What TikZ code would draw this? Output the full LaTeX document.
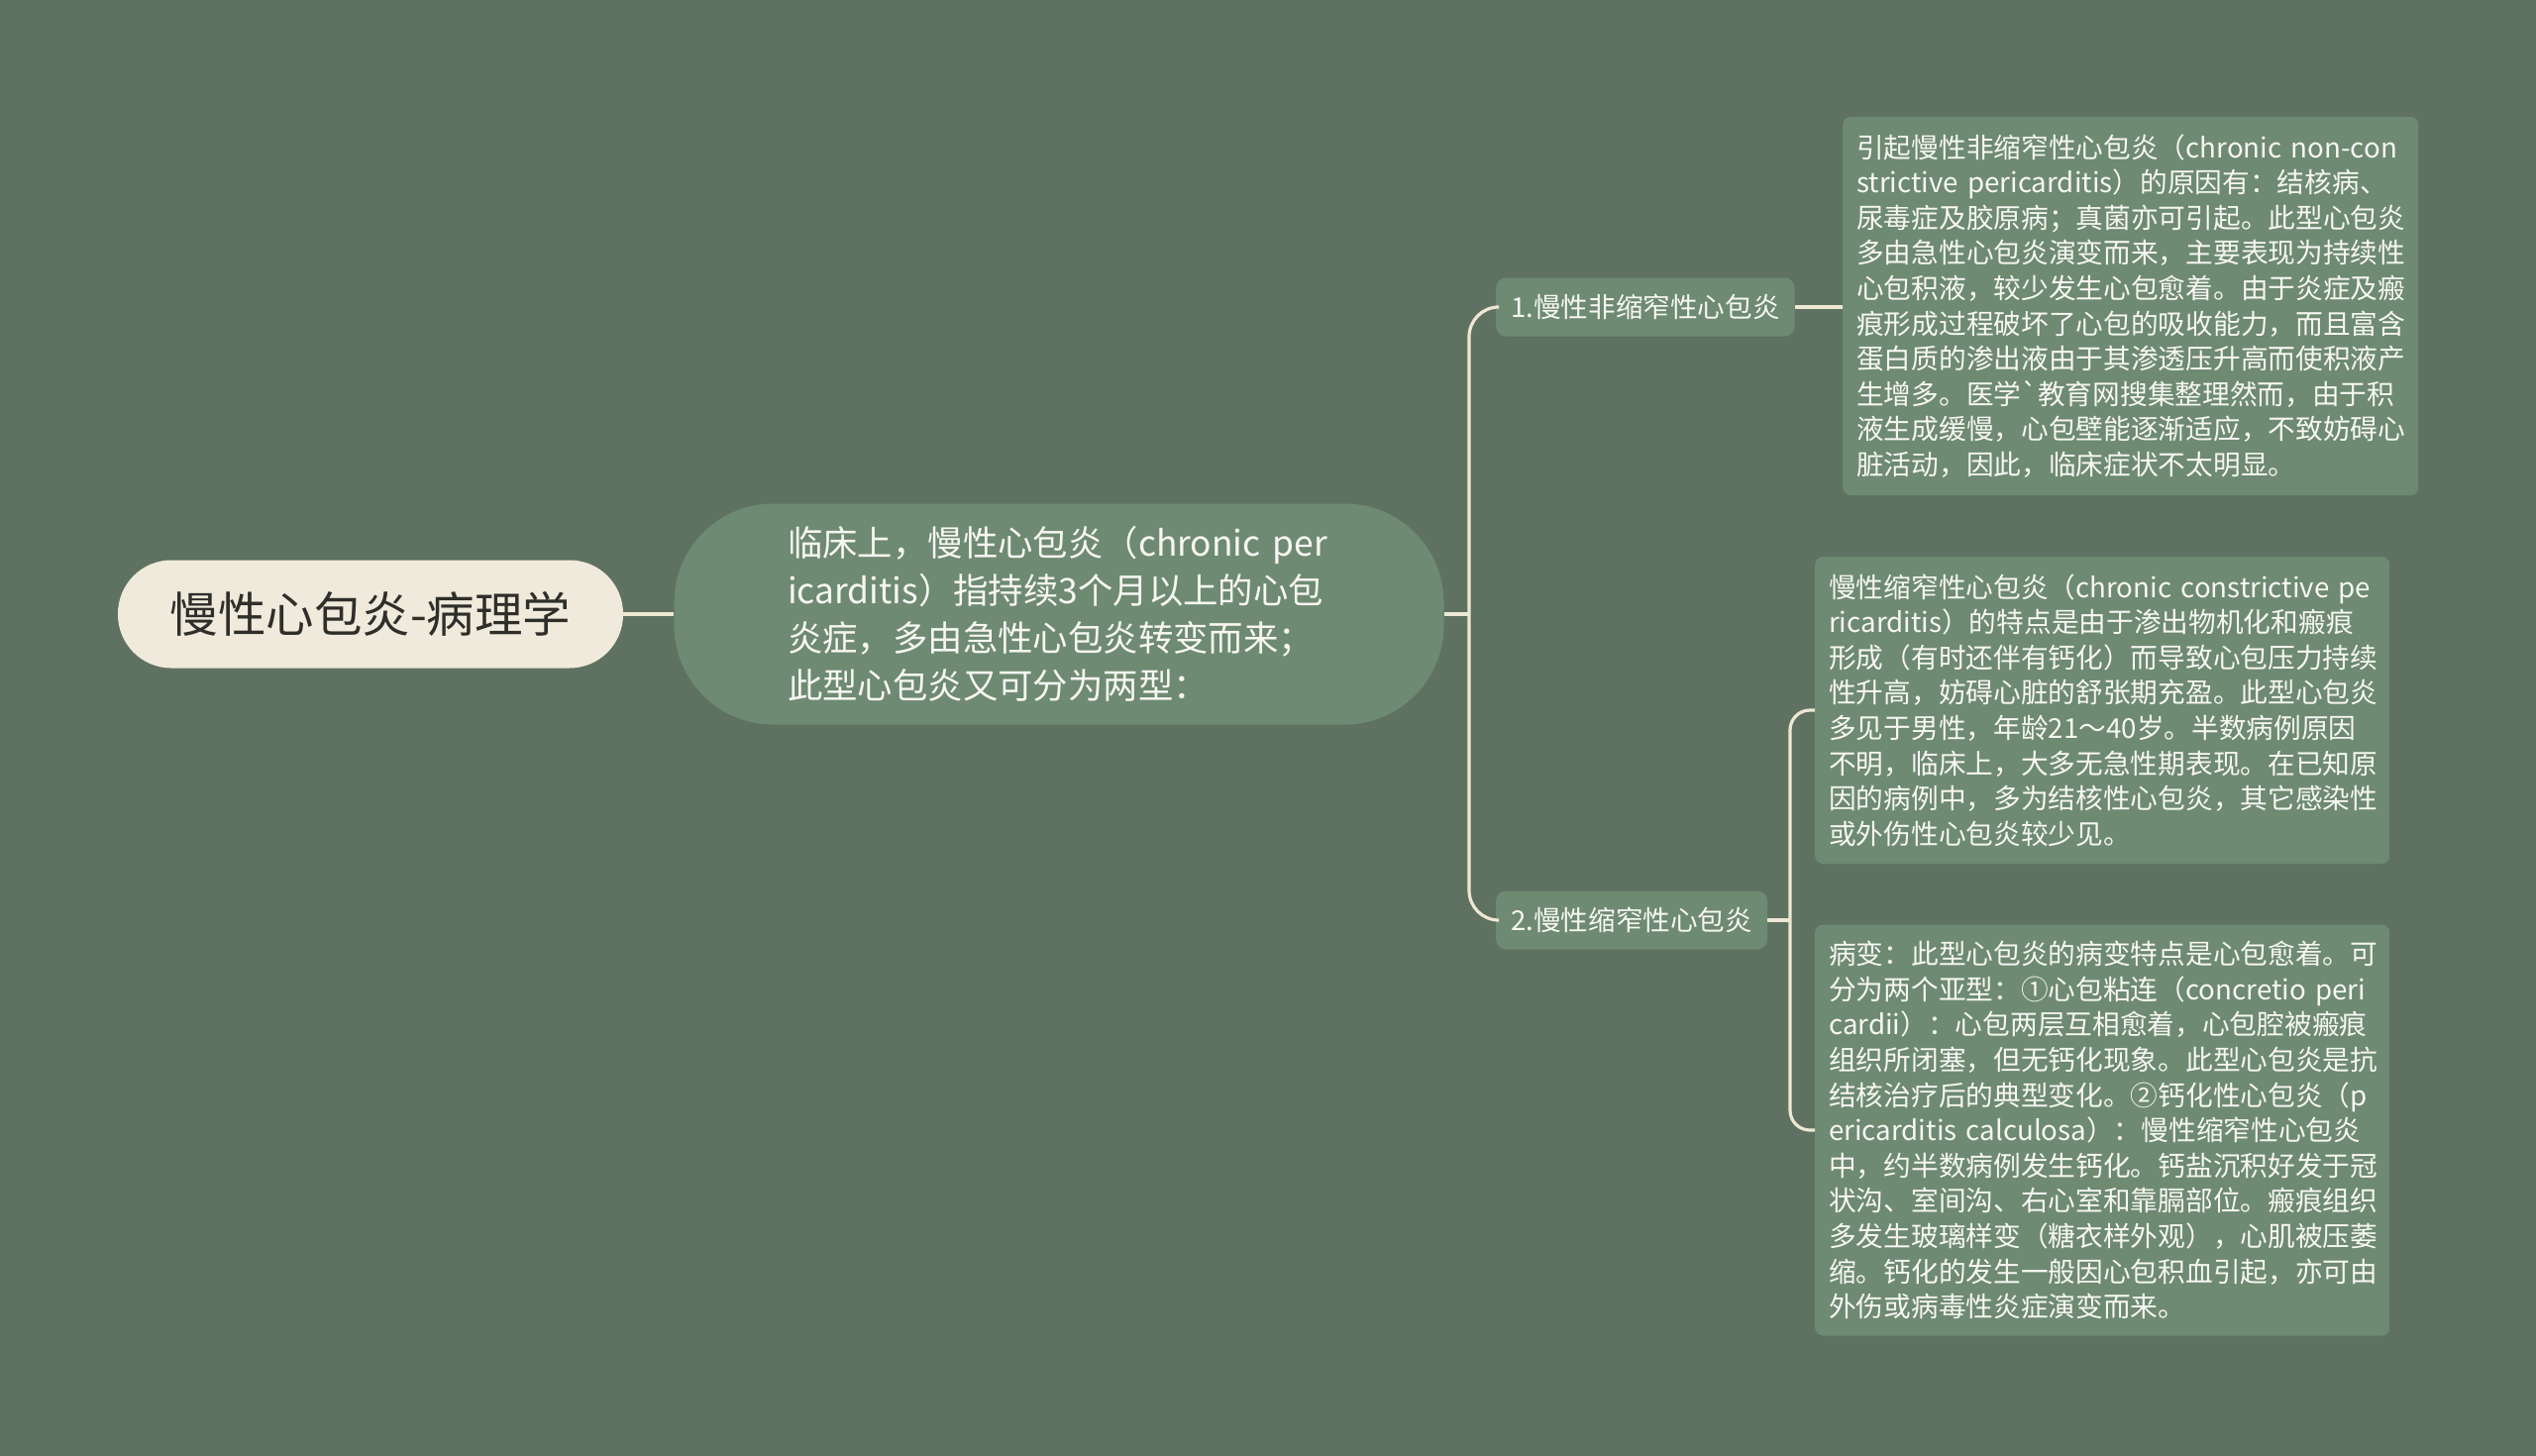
\documentclass[tikz,border=0pt]{standalone}
\usepackage{fontspec}
\newfontfamily\cjk{Noto Sans CJK SC}
\definecolor{bg}{HTML}{5F7262}
\definecolor{nodefill}{HTML}{6E8A72}
\definecolor{cream}{HTML}{EFEADB}
\definecolor{linec}{HTML}{EDE7D3}
\definecolor{dark}{HTML}{2E2E2A}
\definecolor{lighttext}{HTML}{F7F7F2}
\begin{document}
\begin{tikzpicture}[x=1pt,y=-1pt,
  conn/.style={draw=linec,line width=3.2pt},
  rootbox/.style={fill=cream,rounded corners=54pt,minimum width=510pt,minimum height=109pt,
    inner sep=0pt,text=dark,font=\cjk\fontsize{48.5}{58}\selectfont},
  mainbox/.style={fill=nodefill,rounded corners=100pt,minimum width=777pt,minimum height=223pt,
    inner sep=0pt,text width=548pt,align=left,text=lighttext,font=\cjk\fontsize{35.4}{47.8}\selectfont},
  branchbox/.style={fill=nodefill,rounded corners=10pt,minimum height=59pt,inner xsep=15pt,
    inner ysep=0pt,anchor=west,text=lighttext,font=\cjk\fontsize{27.6}{32}\selectfont},
  leafbox/.style={fill=nodefill,rounded corners=8pt,inner xsep=14pt,inner ysep=0pt,anchor=west,
    align=left,text=lighttext,font=\cjk\fontsize{27.7}{35.6}\selectfont}
]
\useasboundingbox (0,0) rectangle (2560,1470);
\fill[bg] (0,0) rectangle (2560,1470);

\node[rootbox] (root) at (374,620) {慢性心包炎-病理学};

\node[mainbox] (main) at (1069,620) {\mbox{临床上，慢性心包炎（chronic per}\\
\mbox{icarditis）指持续3个月以上的心包}\\
\mbox{炎症，多由急性心包炎转变而来；}\\
\mbox{此型心包炎又可分为两型：}};

\node[branchbox] (b1) at (1510,310) {1.慢性非缩窄性心包炎};
\node[branchbox] (b2) at (1510,929) {2.慢性缩窄性心包炎};

\node[leafbox,text width=553pt,minimum height=382pt] (l1) at (1860,309) {\mbox{引起慢性非缩窄性心包炎（chronic non-con}\\
\mbox{strictive pericarditis）的原因有：结核病、}\\
\mbox{尿毒症及胶原病；真菌亦可引起。此型心包炎}\\
\mbox{多由急性心包炎演变而来，主要表现为持续性}\\
\mbox{心包积液，较少发生心包愈着。由于炎症及瘢}\\
\mbox{痕形成过程破坏了心包的吸收能力，而且富含}\\
\mbox{蛋白质的渗出液由于其渗透压升高而使积液产}\\
\mbox{生增多。医学`教育网搜集整理然而，由于积}\\
\mbox{液生成缓慢，心包壁能逐渐适应，不致妨碍心}\\
\mbox{脏活动，因此，临床症状不太明显。}};

\node[leafbox,text width=552pt,minimum height=310pt] (l2) at (1832,717) {\mbox{慢性缩窄性心包炎（chronic constrictive pe}\\
\mbox{ricarditis）的特点是由于渗出物机化和瘢痕}\\
\mbox{形成（有时还伴有钙化）而导致心包压力持续}\\
\mbox{性升高，妨碍心脏的舒张期充盈。此型心包炎}\\
\mbox{多见于男性，年龄21～40岁。半数病例原因}\\
\mbox{不明，临床上，大多无急性期表现。在已知原}\\
\mbox{因的病例中，多为结核性心包炎，其它感染性}\\
\mbox{或外伤性心包炎较少见。}};

\node[leafbox,text width=552pt,minimum height=415pt] (l3) at (1832,1141) {\mbox{病变：此型心包炎的病变特点是心包愈着。可}\\
\mbox{分为两个亚型：①心包粘连（concretio peri}\\
\mbox{cardii）：心包两层互相愈着，心包腔被瘢痕}\\
\mbox{组织所闭塞，但无钙化现象。此型心包炎是抗}\\
\mbox{结核治疗后的典型变化。②钙化性心包炎（p}\\
\mbox{ericarditis calculosa）：慢性缩窄性心包炎}\\
\mbox{中，约半数病例发生钙化。钙盐沉积好发于冠}\\
\mbox{状沟、室间沟、右心室和靠膈部位。瘢痕组织}\\
\mbox{多发生玻璃样变（糖衣样外观），心肌被压萎}\\
\mbox{缩。钙化的发生一般因心包积血引起，亦可由}\\
\mbox{外伤或病毒性炎症演变而来。}};

\coordinate (j1) at (1483,620);
\coordinate (j2) at (1807,929);

\draw[conn] (root.east) -- (main.west);
\draw[conn] (main.east) -- (j1);
\draw[conn,rounded corners=30pt] (j1) |- (b1.west);
\draw[conn,rounded corners=30pt] (j1) |- (b2.west);
\draw[conn] (b1.east) -- (b1.east -| l1.west);
\draw[conn] (b2.east) -- (j2);
\draw[conn,rounded corners=20pt] (j2) |- (l2.west);
\draw[conn,rounded corners=20pt] (j2) |- (l3.west);
\end{tikzpicture}
\end{document}
